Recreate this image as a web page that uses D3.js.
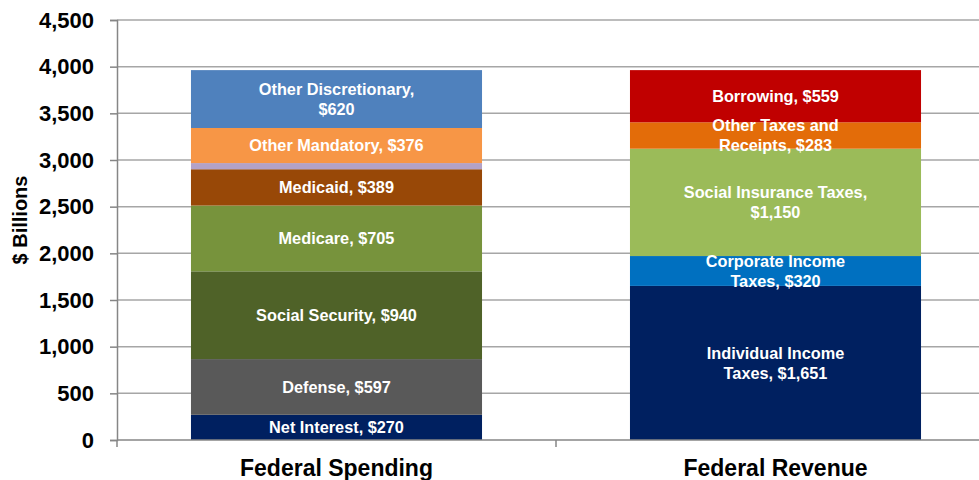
<!DOCTYPE html>
<html>
<head>
<meta charset="utf-8">
<script src="https://cdn.jsdelivr.net/npm/d3@7"></script>
<style>
  body { margin: 0; background: #fff; }
  text { font-family: "Liberation Sans", Arial, sans-serif; font-weight: bold; }
</style>
</head>
<body>
<script>
// categories on the x axis
const categories = ["Federal Spending", "Federal Revenue"];

// spending segments, bottom to top
const spendingLabels = ["Net Interest, $270", "Defense, $597", "Social Security, $940", "Medicare, $705",
    "Medicaid, $389", "", "Other Mandatory, $376", "Other Discretionary,\n$620"];
const spendingValues = [270, 597, 940, 705, 389, 66, 376, 620];
const spendingColors = ["#002060", "#595959", "#4f6228", "#77933c", "#984807", "#b3a2c7", "#f79646", "#4f81bd"];

// revenue segments, bottom to top
const revenueLabels = ["Individual Income\nTaxes, $1,651", "Corporate Income\nTaxes, $320",
    "Social Insurance Taxes,\n$1,150", "Other Taxes and\nReceipts, $283", "Borrowing, $559"];
const revenueValues = [1651, 320, 1150, 283, 559];
const revenueColors = ["#002060", "#0070c0", "#9bbb59", "#e36c09", "#c00000"];

const yTicks = [0, 500, 1000, 1500, 2000, 2500, 3000, 3500, 4000, 4500];

const width = 979, height = 480;
const margin = { left: 117, top: 20, bottom: 40 };

const svg = d3.select("body").append("svg")
    .attr("width", width)
    .attr("height", height);

const x = d3.scaleBand()
    .domain(categories)
    .range([margin.left, margin.left + 2 * 439])
    .paddingInner(0.337)
    .paddingOuter(0.1685);

const y = d3.scaleLinear()
    .domain([0, 4500])
    .range([height - margin.bottom, margin.top]);

// gridlines
svg.append("g")
    .selectAll("line")
    .data(yTicks.slice(1))
    .join("line")
    .attr("x1", margin.left)
    .attr("x2", width)
    .attr("y1", d => y(d))
    .attr("y2", d => y(d))
    .attr("stroke", "#a6a6a6")
    .attr("stroke-width", 1.5);

// stacks
function stackOf(values, labels, colors) {
    let acc = 0;
    return values.map((v, i) => {
        const d = { y0: acc, y1: acc + v, label: labels[i], color: colors[i] };
        acc += v;
        return d;
    });
}
const series = [
    { cat: categories[0], segs: stackOf(spendingValues, spendingLabels, spendingColors) },
    { cat: categories[1], segs: stackOf(revenueValues, revenueLabels, revenueColors) }
];

series.forEach(s => {
    const g = svg.append("g");
    g.selectAll("rect")
        .data(s.segs)
        .join("rect")
        .attr("x", x(s.cat))
        .attr("width", x.bandwidth())
        .attr("y", d => y(d.y1))
        .attr("height", d => y(d.y0) - y(d.y1))
        .attr("fill", d => d.color);
});

// labels drawn after all rects so they sit on top
series.forEach(s => {
    const cx = x(s.cat) + x.bandwidth() / 2;
    s.segs.forEach(d => {
        if (!d.label) return;
        const lines = d.label.split("\n");
        const cy = (y(d.y0) + y(d.y1)) / 2;
        const lh = 20;
        const t = svg.append("text")
            .attr("text-anchor", "middle")
            .attr("fill", "#fff")
            .attr("font-size", 16.3);
        lines.forEach((ln, i) => {
            t.append("tspan")
                .attr("x", cx)
                .attr("y", cy + (i - (lines.length - 1) / 2) * lh)
                .attr("dy", "0.35em")
                .text(ln);
        });
    });
});

// y axis
const yAxis = svg.append("g")
    .attr("transform", `translate(${margin.left},0)`)
    .call(d3.axisLeft(y).tickValues(yTicks).tickSize(7).tickPadding(16).tickFormat(d3.format(",")));
yAxis.select(".domain").attr("stroke", "#868686").attr("stroke-width", 1.5);
yAxis.selectAll(".tick line").attr("stroke", "#868686").attr("stroke-width", 1.5);
yAxis.selectAll(".tick text")
    .attr("font-size", 22)
    .attr("font-family", "Liberation Sans, Arial, sans-serif")
    .attr("font-weight", "bold")
    .attr("fill", "#000");

// x axis
const x0 = y(0);
svg.append("line")
    .attr("x1", margin.left).attr("x2", width)
    .attr("y1", x0).attr("y2", x0)
    .attr("stroke", "#868686").attr("stroke-width", 1.5);
svg.append("g")
    .selectAll("line")
    .data([margin.left, margin.left + 439])
    .join("line")
    .attr("x1", d => d).attr("x2", d => d)
    .attr("y1", x0).attr("y2", x0 + 7)
    .attr("stroke", "#868686").attr("stroke-width", 1.5);

svg.append("g")
    .selectAll("text")
    .data(categories)
    .join("text")
    .attr("x", d => x(d) + x.bandwidth() / 2)
    .attr("y", 476)
    .attr("text-anchor", "middle")
    .attr("font-size", 23)
    .attr("fill", "#000")
    .text(d => d);

// y title
svg.append("text")
    .attr("transform", "translate(27,220) rotate(-90)")
    .attr("text-anchor", "middle")
    .attr("font-size", 20)
    .attr("fill", "#000")
    .text("$ Billions");
</script>
</body>
</html>
